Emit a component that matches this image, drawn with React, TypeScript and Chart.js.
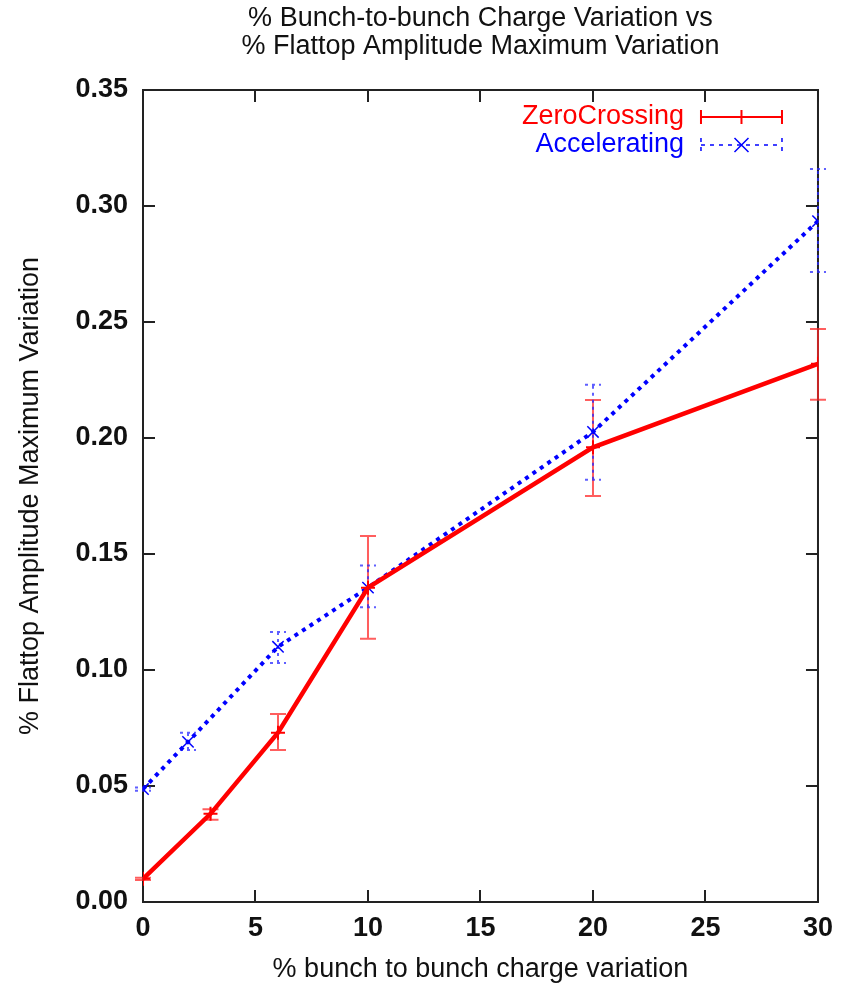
import React, { useEffect, useRef } from "react";
import { Chart, registerables } from "chart.js";

Chart.register(...registerables);

const titleLines = ["% Bunch-to-bunch Charge Variation vs", "% Flattop Amplitude Maximum Variation"];
const xAxisTitle = "% bunch to bunch charge variation";
const yAxisTitle = "% Flattop Amplitude Maximum Variation";

const zeroLabel = "ZeroCrossing";
const zeroX = [0, 3, 6, 10, 20, 30];
const zeroY = [0.0100, 0.0380, 0.0730, 0.1355, 0.1960, 0.2320];
const zeroLow = [0.0095, 0.0355, 0.0655, 0.1135, 0.1750, 0.2165];
const zeroHigh = [0.0105, 0.0400, 0.0810, 0.1578, 0.2164, 0.2470];

const accelLabel = "Accelerating";
const accelX = [0, 2, 6, 10, 20, 30];
const accelY = [0.0487, 0.0690, 0.1100, 0.1355, 0.2026, 0.2935];
const accelLow = [0.0480, 0.0655, 0.1030, 0.1270, 0.1820, 0.2715];
const accelHigh = [0.0494, 0.0730, 0.1164, 0.1450, 0.2230, 0.3160];

const xMin = 0, xMax = 30, xStep = 5;
const yMin = 0, yMax = 0.35, yStep = 0.05;

const RED = "#ff0000";
const BLUE = "#0000ff";
const FONT = "'Liberation Sans', Arial, Helvetica, sans-serif";

const errorData = [
  { xs: zeroX, lo: zeroLow, hi: zeroHigh, color: "rgba(255,40,40,0.75)", dash: [] as number[] },
  { xs: accelX, lo: accelLow, hi: accelHigh, color: "rgba(40,40,255,0.75)", dash: [3, 4] },
];

const decorPlugin = {
  id: "decor",
  beforeDatasetsDraw(chart: any) {
    const { ctx, chartArea: a, scales } = chart;
    const xs = scales.x, ys = scales.y;
    ctx.save();
    // inward ticks, mirrored
    ctx.strokeStyle = "#222";
    ctx.lineWidth = 2;
    const tl = 12;
    for (let v = xMin; v <= xMax + 1e-9; v += xStep) {
      const px = Math.round(xs.getPixelForValue(v));
      ctx.beginPath();
      ctx.moveTo(px, a.bottom); ctx.lineTo(px, a.bottom - tl);
      ctx.moveTo(px, a.top); ctx.lineTo(px, a.top + tl);
      ctx.stroke();
    }
    for (let v = yMin; v <= yMax + 1e-9; v += yStep) {
      const py = Math.round(ys.getPixelForValue(v));
      ctx.beginPath();
      ctx.moveTo(a.left, py); ctx.lineTo(a.left + tl, py);
      ctx.moveTo(a.right, py); ctx.lineTo(a.right - tl, py);
      ctx.stroke();
    }
    ctx.strokeRect(a.left, a.top, a.right - a.left, a.bottom - a.top);

    // error bars
    const cap = 8;
    errorData.forEach((e) => {
      ctx.strokeStyle = e.color;
      ctx.lineWidth = 2;
      ctx.setLineDash(e.dash);
      e.xs.forEach((xv, i) => {
        const px = xs.getPixelForValue(xv);
        const pl = ys.getPixelForValue(e.lo[i]);
        const ph = ys.getPixelForValue(e.hi[i]);
        ctx.beginPath();
        ctx.moveTo(px, pl); ctx.lineTo(px, ph);
        ctx.moveTo(px - cap, pl); ctx.lineTo(px + cap, pl);
        ctx.moveTo(px - cap, ph); ctx.lineTo(px + cap, ph);
        ctx.stroke();
      });
    });
    ctx.restore();
  },
  afterDraw(chart: any) {
    const { ctx, chartArea: a } = chart;
    ctx.save();
    // title
    ctx.fillStyle = "#111";
    ctx.font = `27px ${FONT}`;
    ctx.textAlign = "center";
    ctx.textBaseline = "middle";
    const cx = (a.left + a.right) / 2;
    ctx.fillText(titleLines[0], cx, 19);
    ctx.fillText(titleLines[1], cx, 47);

    // legend
    const tx = a.right - 134;
    const s0 = a.right - 117, s1 = a.right - 36, sm = (s0 + s1) / 2;
    const y1 = a.top + 27, y2 = a.top + 55;
    ctx.textAlign = "right";
    ctx.font = `27px ${FONT}`;
    ctx.fillStyle = RED;
    ctx.fillText(zeroLabel, tx, y1);
    ctx.fillStyle = BLUE;
    ctx.fillText(accelLabel, tx, y2);

    ctx.strokeStyle = RED;
    ctx.lineWidth = 2;
    ctx.beginPath();
    ctx.moveTo(s0, y1); ctx.lineTo(s1, y1);
    ctx.moveTo(s0, y1 - 7); ctx.lineTo(s0, y1 + 7);
    ctx.moveTo(s1, y1 - 7); ctx.lineTo(s1, y1 + 7);
    ctx.moveTo(sm, y1 - 7); ctx.lineTo(sm, y1 + 7);
    ctx.stroke();

    ctx.strokeStyle = BLUE;
    ctx.lineWidth = 1.5;
    ctx.setLineDash([4, 5]);
    ctx.beginPath();
    ctx.moveTo(s0, y2); ctx.lineTo(s1, y2);
    ctx.moveTo(s0, y2 - 7); ctx.lineTo(s0, y2 + 7);
    ctx.moveTo(s1, y2 - 7); ctx.lineTo(s1, y2 + 7);
    ctx.stroke();
    ctx.setLineDash([]);
    ctx.beginPath();
    ctx.moveTo(sm - 7, y2 - 7); ctx.lineTo(sm + 7, y2 + 7);
    ctx.moveTo(sm - 7, y2 + 7); ctx.lineTo(sm + 7, y2 - 7);
    ctx.stroke();
    ctx.restore();
  },
};

export default function App() {
  const ref = useRef<HTMLCanvasElement>(null);
  useEffect(() => {
    if (!ref.current) return;
    const chart = new Chart(ref.current, {
      type: "scatter",
      data: {
        datasets: [
          {
            label: zeroLabel,
            data: zeroX.map((x, i) => ({ x, y: zeroY[i] })),
            showLine: true,
            borderColor: RED,
            backgroundColor: RED,
            borderWidth: 4.5,
            pointStyle: "cross",
            pointRadius: 7,
            pointBorderWidth: 2,
            pointBorderColor: RED,
          },
          {
            label: accelLabel,
            data: accelX.map((x, i) => ({ x, y: accelY[i] })),
            showLine: true,
            borderColor: BLUE,
            backgroundColor: BLUE,
            borderWidth: 4,
            borderDash: [4, 5],
            pointStyle: "crossRot",
            pointRadius: 8,
            pointBorderWidth: 1.5,
            pointBorderColor: BLUE,
          },
        ],
      },
      options: {
        animation: false,
        responsive: false,
        maintainAspectRatio: false,
        layout: { padding: { top: 90, right: 23, left: 0, bottom: 0 } },
        plugins: { legend: { display: false }, tooltip: { enabled: false }, title: { display: false } },
        scales: {
          x: {
            type: "linear",
            min: xMin,
            max: xMax,
            afterFit: (s: any) => { s.height = 85; },
            grid: { display: false, drawTicks: false },
            border: { display: false },
            ticks: {
              stepSize: xStep,
              padding: 10,
              color: "#111",
              font: { family: FONT, size: 27, weight: "bold" },
              maxRotation: 0,
            },
            title: {
              display: true,
              text: xAxisTitle,
              color: "#111",
              font: { family: FONT, size: 27 },
              padding: { top: 0, bottom: 1 },
            },
          },
          y: {
            type: "linear",
            min: yMin,
            max: yMax,
            afterFit: (s: any) => { s.width = 143; },
            grid: { display: false, drawTicks: false },
            border: { display: false },
            ticks: {
              stepSize: yStep,
              padding: 15,
              color: "#111",
              font: { family: FONT, size: 27, weight: "bold" },
              callback: (v: any) => Number(v).toFixed(2),
            },
            title: {
              display: true,
              text: yAxisTitle,
              color: "#111",
              font: { family: FONT, size: 27 },
              padding: { top: 14, bottom: 0 },
            },
          },
        },
      },
      plugins: [decorPlugin],
    });
    return () => chart.destroy();
  }, []);
  return (
    <div style={{ position: "absolute", left: 0, top: 0, width: 843, height: 987, background: "#fff" }}>
      <canvas ref={ref} width={843} height={987} style={{ display: "block" }} />
    </div>
  );
}
